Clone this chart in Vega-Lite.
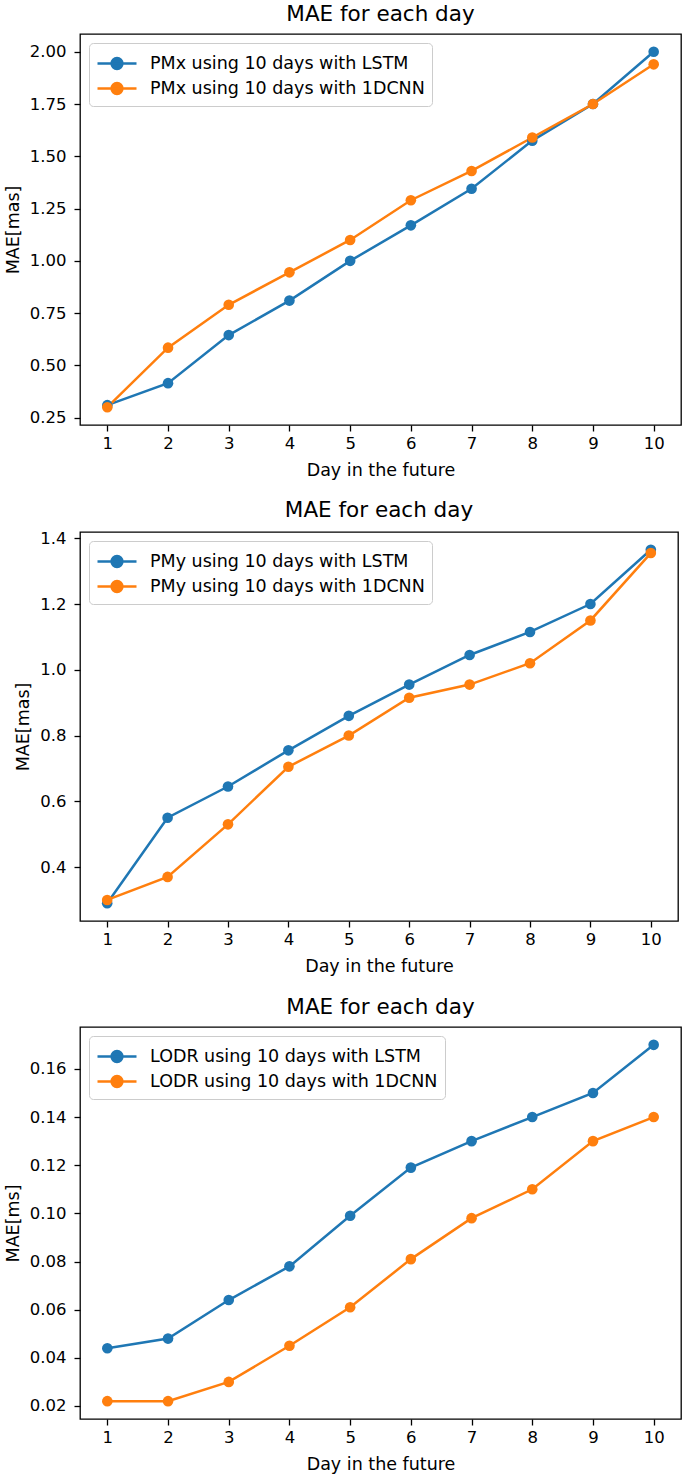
{
  "$schema": "https://vega.github.io/schema/vega-lite/v6.json",
  "background": "#ffffff",
  "padding": {"left": 3, "top": 2, "right": 2, "bottom": 2},
  "spacing": 19,
  "columns": 1,
  "align": "none",
  "config": {
    "font": "DejaVu Sans",
    "view": {"stroke": "#000000", "strokeWidth": 1.3},
    "title": {"fontSize": 21.5, "fontWeight": "normal", "color": "#000000", "anchor": "middle", "frame": "group", "offset": 9},
    "axis": {
      "grid": false,
      "domain": false,
      "tickColor": "#000000",
      "tickSize": 6,
      "tickWidth": 1.3,
      "labelColor": "#000000",
      "labelFontSize": 16.5,
      "titleColor": "#000000",
      "titleFontSize": 17.5,
      "titleFontWeight": "normal"
    },
    "axisX": {"labelPadding": 4, "titlePadding": 10},
    "axisY": {"labelPadding": 8, "titlePadding": 7},
    "legend": {
      "orient": "top-left",
      "offset": 9,
      "title": null,
      "fillColor": "#ffffff",
      "strokeColor": "#cccccc",
      "cornerRadius": 4,
      "padding": 7,
      "labelFontSize": 17.5,
      "labelColor": "#000000",
      "labelLimit": 500,
      "rowPadding": 1,
      "symbolSize": 576,
      "symbolStrokeWidth": 2.5,
      "symbolType": "M-1,0H2.25M0.175,0A0.45,0.45,0,1,1,1.075,0A0.45,0.45,0,1,1,0.175,0Z",
      "labelOffset": 27
    }
  },
  "datasets": {
    "pmx": [
      {"day": 1, "mae": 0.31, "series": "PMx using 10 days with LSTM"},
      {"day": 2, "mae": 0.415, "series": "PMx using 10 days with LSTM"},
      {"day": 3, "mae": 0.645, "series": "PMx using 10 days with LSTM"},
      {"day": 4, "mae": 0.81, "series": "PMx using 10 days with LSTM"},
      {"day": 5, "mae": 1.0, "series": "PMx using 10 days with LSTM"},
      {"day": 6, "mae": 1.17, "series": "PMx using 10 days with LSTM"},
      {"day": 7, "mae": 1.345, "series": "PMx using 10 days with LSTM"},
      {"day": 8, "mae": 1.575, "series": "PMx using 10 days with LSTM"},
      {"day": 9, "mae": 1.75, "series": "PMx using 10 days with LSTM"},
      {"day": 10, "mae": 2.0, "series": "PMx using 10 days with LSTM"},
      {"day": 1, "mae": 0.30, "series": "PMx using 10 days with 1DCNN"},
      {"day": 2, "mae": 0.585, "series": "PMx using 10 days with 1DCNN"},
      {"day": 3, "mae": 0.79, "series": "PMx using 10 days with 1DCNN"},
      {"day": 4, "mae": 0.945, "series": "PMx using 10 days with 1DCNN"},
      {"day": 5, "mae": 1.10, "series": "PMx using 10 days with 1DCNN"},
      {"day": 6, "mae": 1.29, "series": "PMx using 10 days with 1DCNN"},
      {"day": 7, "mae": 1.43, "series": "PMx using 10 days with 1DCNN"},
      {"day": 8, "mae": 1.59, "series": "PMx using 10 days with 1DCNN"},
      {"day": 9, "mae": 1.75, "series": "PMx using 10 days with 1DCNN"},
      {"day": 10, "mae": 1.94, "series": "PMx using 10 days with 1DCNN"}
    ],
    "pmy": [
      {"day": 1, "mae": 0.29, "series": "PMy using 10 days with LSTM"},
      {"day": 2, "mae": 0.55, "series": "PMy using 10 days with LSTM"},
      {"day": 3, "mae": 0.645, "series": "PMy using 10 days with LSTM"},
      {"day": 4, "mae": 0.755, "series": "PMy using 10 days with LSTM"},
      {"day": 5, "mae": 0.86, "series": "PMy using 10 days with LSTM"},
      {"day": 6, "mae": 0.955, "series": "PMy using 10 days with LSTM"},
      {"day": 7, "mae": 1.045, "series": "PMy using 10 days with LSTM"},
      {"day": 8, "mae": 1.115, "series": "PMy using 10 days with LSTM"},
      {"day": 9, "mae": 1.20, "series": "PMy using 10 days with LSTM"},
      {"day": 10, "mae": 1.365, "series": "PMy using 10 days with LSTM"},
      {"day": 1, "mae": 0.30, "series": "PMy using 10 days with 1DCNN"},
      {"day": 2, "mae": 0.37, "series": "PMy using 10 days with 1DCNN"},
      {"day": 3, "mae": 0.53, "series": "PMy using 10 days with 1DCNN"},
      {"day": 4, "mae": 0.705, "series": "PMy using 10 days with 1DCNN"},
      {"day": 5, "mae": 0.80, "series": "PMy using 10 days with 1DCNN"},
      {"day": 6, "mae": 0.915, "series": "PMy using 10 days with 1DCNN"},
      {"day": 7, "mae": 0.955, "series": "PMy using 10 days with 1DCNN"},
      {"day": 8, "mae": 1.02, "series": "PMy using 10 days with 1DCNN"},
      {"day": 9, "mae": 1.15, "series": "PMy using 10 days with 1DCNN"},
      {"day": 10, "mae": 1.355, "series": "PMy using 10 days with 1DCNN"}
    ],
    "lodr": [
      {"day": 1, "mae": 0.044, "series": "LODR using 10 days with LSTM"},
      {"day": 2, "mae": 0.048, "series": "LODR using 10 days with LSTM"},
      {"day": 3, "mae": 0.064, "series": "LODR using 10 days with LSTM"},
      {"day": 4, "mae": 0.078, "series": "LODR using 10 days with LSTM"},
      {"day": 5, "mae": 0.099, "series": "LODR using 10 days with LSTM"},
      {"day": 6, "mae": 0.119, "series": "LODR using 10 days with LSTM"},
      {"day": 7, "mae": 0.130, "series": "LODR using 10 days with LSTM"},
      {"day": 8, "mae": 0.140, "series": "LODR using 10 days with LSTM"},
      {"day": 9, "mae": 0.150, "series": "LODR using 10 days with LSTM"},
      {"day": 10, "mae": 0.170, "series": "LODR using 10 days with LSTM"},
      {"day": 1, "mae": 0.022, "series": "LODR using 10 days with 1DCNN"},
      {"day": 2, "mae": 0.022, "series": "LODR using 10 days with 1DCNN"},
      {"day": 3, "mae": 0.030, "series": "LODR using 10 days with 1DCNN"},
      {"day": 4, "mae": 0.045, "series": "LODR using 10 days with 1DCNN"},
      {"day": 5, "mae": 0.061, "series": "LODR using 10 days with 1DCNN"},
      {"day": 6, "mae": 0.081, "series": "LODR using 10 days with 1DCNN"},
      {"day": 7, "mae": 0.098, "series": "LODR using 10 days with 1DCNN"},
      {"day": 8, "mae": 0.110, "series": "LODR using 10 days with 1DCNN"},
      {"day": 9, "mae": 0.130, "series": "LODR using 10 days with 1DCNN"},
      {"day": 10, "mae": 0.140, "series": "LODR using 10 days with 1DCNN"}
    ]
  },
  "resolve": {"scale": {"color": "independent", "x": "independent", "y": "independent"}},
  "concat": [
    {
      "title": "MAE for each day",
      "width": 601,
      "height": 391,
      "data": {"name": "pmx"},
      "mark": {"type": "line", "strokeWidth": 2.5, "point": {"filled": true, "size": 113, "opacity": 1}},
      "encoding": {
        "x": {"field": "day", "type": "quantitative", "title": "Day in the future",
          "scale": {"domain": [0.55, 10.45], "nice": false, "zero": false},
          "axis": {"values": [1, 2, 3, 4, 5, 6, 7, 8, 9, 10], "format": "d"}},
        "y": {"field": "mae", "type": "quantitative", "title": "MAE[mas]",
          "scale": {"domain": [0.215, 2.085], "nice": false, "zero": false},
          "axis": {"values": [0.25, 0.5, 0.75, 1.0, 1.25, 1.5, 1.75, 2.0], "format": ".2f"}},
        "color": {"field": "series", "type": "nominal",
          "scale": {"domain": ["PMx using 10 days with LSTM", "PMx using 10 days with 1DCNN"], "range": ["#1f77b4", "#ff7f0e"]},
          "legend": {"encode": {"symbols": {"update": {"fill": [{"test": "indexof(datum.value, 'LSTM') >= 0", "value": "#1f77b4"}, {"value": "#ff7f0e"}]}}}}}
      }
    },
    {
      "title": "MAE for each day",
      "width": 598,
      "height": 389,
      "data": {"name": "pmy"},
      "mark": {"type": "line", "strokeWidth": 2.5, "point": {"filled": true, "size": 113, "opacity": 1}},
      "encoding": {
        "x": {"field": "day", "type": "quantitative", "title": "Day in the future",
          "scale": {"domain": [0.55, 10.45], "nice": false, "zero": false},
          "axis": {"values": [1, 2, 3, 4, 5, 6, 7, 8, 9, 10], "format": "d"}},
        "y": {"field": "mae", "type": "quantitative", "title": "MAE[mas]",
          "scale": {"domain": [0.236, 1.419], "nice": false, "zero": false},
          "axis": {"values": [0.4, 0.6, 0.8, 1.0, 1.2, 1.4], "format": ".1f"}},
        "color": {"field": "series", "type": "nominal",
          "scale": {"domain": ["PMy using 10 days with LSTM", "PMy using 10 days with 1DCNN"], "range": ["#1f77b4", "#ff7f0e"]},
          "legend": {"encode": {"symbols": {"update": {"fill": [{"test": "indexof(datum.value, 'LSTM') >= 0", "value": "#1f77b4"}, {"value": "#ff7f0e"}]}}}}}
      }
    },
    {
      "title": "MAE for each day",
      "width": 601,
      "height": 392,
      "data": {"name": "lodr"},
      "mark": {"type": "line", "strokeWidth": 2.5, "point": {"filled": true, "size": 113, "opacity": 1}},
      "encoding": {
        "x": {"field": "day", "type": "quantitative", "title": "Day in the future",
          "scale": {"domain": [0.55, 10.45], "nice": false, "zero": false},
          "axis": {"values": [1, 2, 3, 4, 5, 6, 7, 8, 9, 10], "format": "d"}},
        "y": {"field": "mae", "type": "quantitative", "title": "MAE[ms]",
          "scale": {"domain": [0.0146, 0.1774], "nice": false, "zero": false},
          "axis": {"values": [0.02, 0.04, 0.06, 0.08, 0.1, 0.12, 0.14, 0.16], "format": ".2f"}},
        "color": {"field": "series", "type": "nominal",
          "scale": {"domain": ["LODR using 10 days with LSTM", "LODR using 10 days with 1DCNN"], "range": ["#1f77b4", "#ff7f0e"]},
          "legend": {"encode": {"symbols": {"update": {"fill": [{"test": "indexof(datum.value, 'LSTM') >= 0", "value": "#1f77b4"}, {"value": "#ff7f0e"}]}}}}}
      }
    }
  ]
}
